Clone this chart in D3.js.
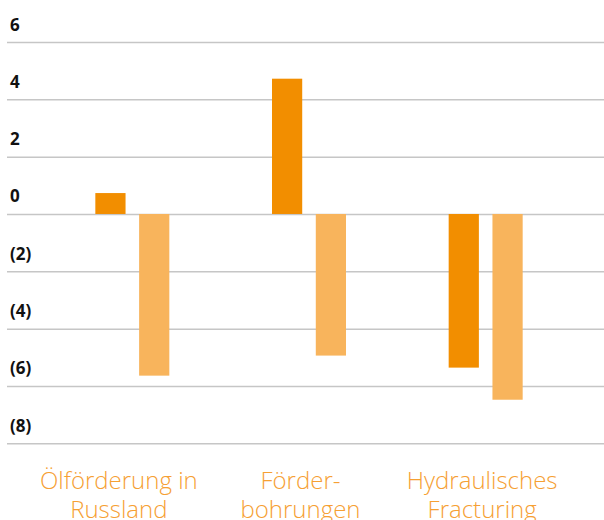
<!DOCTYPE html>
<html>
<head>
<meta charset="utf-8">
<script src="https://cdn.jsdelivr.net/npm/d3@7"></script>
<style>
  body { margin: 0; background: #fff; }
  svg { display: block; font-family: "Open Sans", sans-serif; }
</style>
</head>
<body>
<svg id="chart"></svg>
<script>
// categories, each label split into its two lines
const categories = ["Ölförderung in Russland", "Förderbohrungen", "Hydraulisches Fracturing"];
const categoryLines = [
  ["Ölförderung in", "Russland"],
  ["Förder-", "bohrungen"],
  ["Hydraulisches", "Fracturing"],
];
const seriesNames = ["Reihe 1", "Reihe 2"];
const series1 = [0.73, 4.72, -5.36];
const series2 = [-5.64, -4.94, -6.48];
const tickValues = [6, 4, 2, 0, -2, -4, -6, -8];
const tickLabels = ["6", "4", "2", "0", "(2)", "(4)", "(6)", "(8)"];

const width = 604;
const height = 520;
const colors = ["#f28e00", "#f8b45c"];

const svg = d3.select("#chart").attr("width", width).attr("height", height);

const rows = categories.map((c, i) => ({
  category: c,
  values: [series1[i], series2[i]],
}));

// scales
const x = d3.scaleBand().domain(categories).range([44, 574]);
// the labels sit a bit left of their bar pairs
const xLabel = d3.scaleBand().domain(categories).range([28, 573]);
const groupWidth = 74;
const xInner = d3
  .scaleBand()
  .domain(seriesNames)
  .range([0, groupWidth])
  .paddingInner(0.31);
const y = d3.scaleLinear().domain([-8, 6]).range([443.3, 42]);

// gridlines + tick labels
const yAxis = svg
  .append("g")
  .attr("transform", "translate(7 0)")
  .call(
    d3
      .axisRight(y)
      .tickValues(tickValues)
      .tickSize(width - 7)
      .tickFormat((d, i) => tickLabels[i])
  );
yAxis.select(".domain").remove();
yAxis.selectAll(".tick line").attr("stroke", "#c6c6c6").attr("stroke-width", 1.5);
yAxis
  .selectAll(".tick text")
  .attr("x", 3)
  .attr("y", -12)
  .attr("dy", 0)
  .attr("text-anchor", "start")
  .attr("font-size", 17)
  .attr("font-weight", 700)
  .attr("font-family", "'Open Sans', sans-serif")
  .attr("fill", "#111");

// bars
const groups = svg
  .append("g")
  .selectAll("g")
  .data(rows)
  .join("g")
  .attr("transform", (d) => `translate(${x(d.category) + (x.bandwidth() - groupWidth) / 2} 0)`);

groups
  .selectAll("rect")
  .data((d) => d.values.map((v, i) => ({ key: seriesNames[i], value: v, i })))
  .join("rect")
  .attr("x", (d) => xInner(d.key))
  .attr("width", xInner.bandwidth())
  .attr("y", (d) => y(Math.max(0, d.value)))
  .attr("height", (d) => Math.abs(y(d.value) - y(0)))
  .attr("fill", (d) => colors[d.i]);

// category labels
const labels = svg
  .append("g")
  .selectAll("text")
  .data(categories)
  .join("text")
  .attr("x", (d) => xLabel(d) + xLabel.bandwidth() / 2)
  .attr("y", 489)
  .attr("text-anchor", "middle")
  .attr("font-size", 24)
  .attr("font-weight", 300)
  .attr("fill", "#f6a033");

labels
  .selectAll("tspan")
  .data((d, i) => categoryLines[i])
  .join("tspan")
  .attr("x", function () {
    return d3.select(this.parentNode).attr("x");
  })
  .attr("dy", (d, i) => (i === 0 ? 0 : 29))
  .text((d) => d);
</script>
</body>
</html>
